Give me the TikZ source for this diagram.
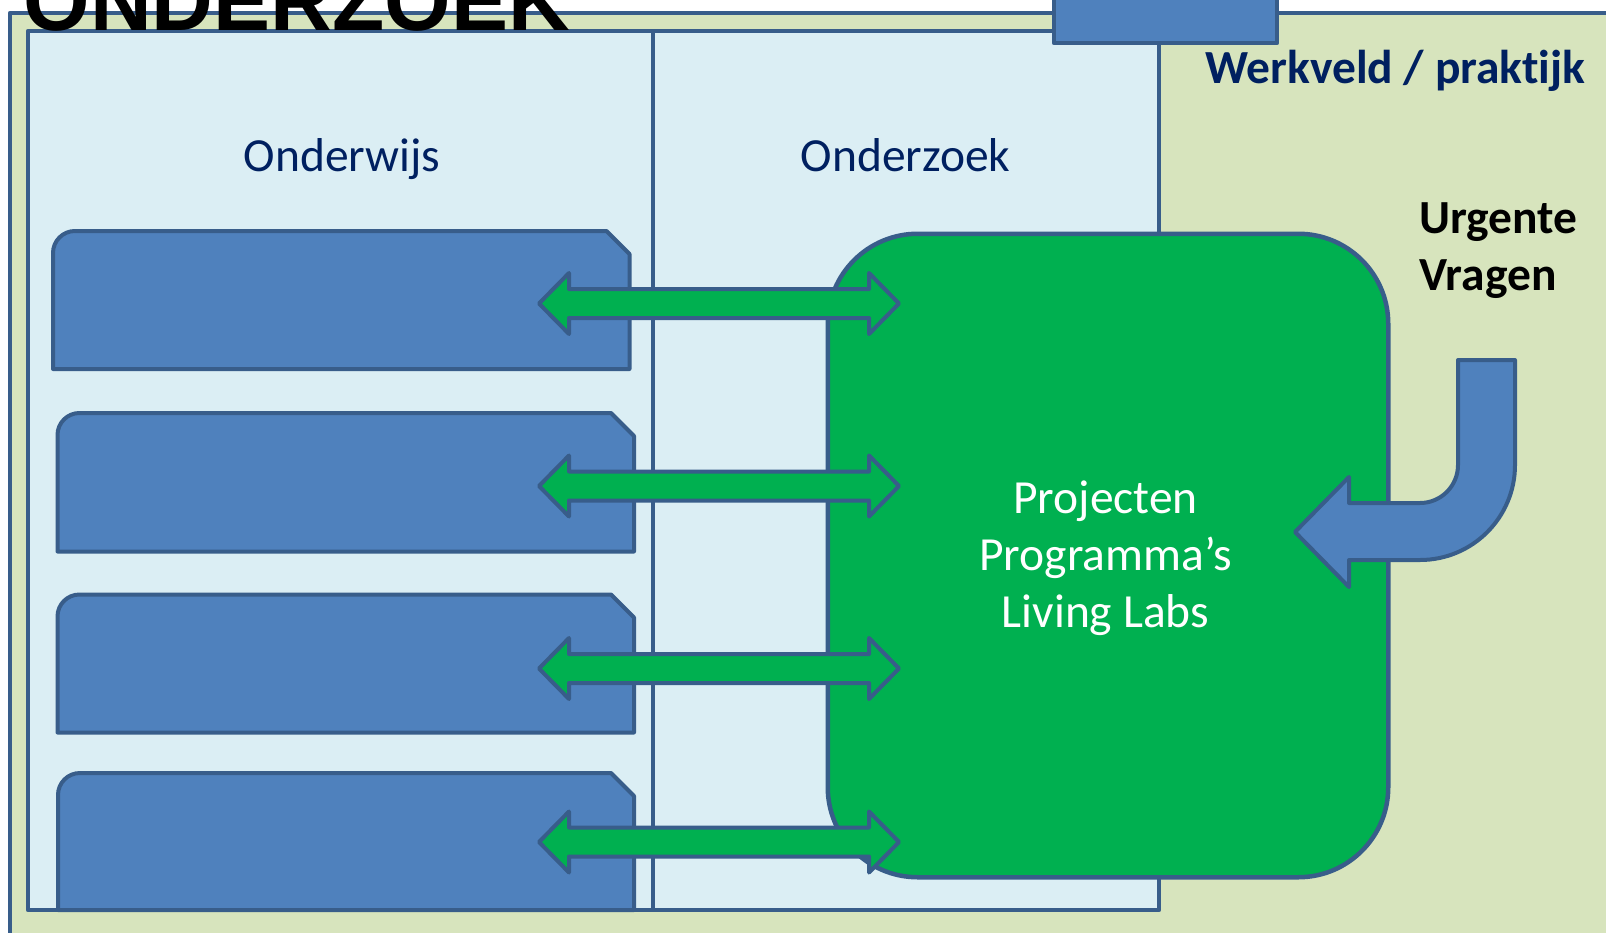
\documentclass[tikz,border=0pt]{standalone}
\usepackage{fontspec}
\setmainfont{Carlito}[Ligatures=NoCommon]
\newfontfamily\titlefont{Liberation Sans}
\usetikzlibrary{calc}
\definecolor{frameblue}{HTML}{385D8A}
\definecolor{boxblue}{HTML}{4F81BD}
\definecolor{hubgreen}{HTML}{00B050}
\definecolor{lightgreen}{HTML}{D7E4BD}
\definecolor{lightblue}{HTML}{DBEEF4}
\definecolor{navy}{HTML}{002060}
\newcommand\tabshape[4]{%
  \draw[tabbox] (#1,#4) -- (#1,#2+22) arc[start angle=180,end angle=270,radius=22]
    -- (#3-23,#2) -- (#3,#2+23) -- (#3,#4) -- cycle;}
\newcommand\twowayarrow[2]{%
  \draw[twoway] (#1) -- ($(#1)+(30,-30.5)$) -- ($(#1)+(30,-14.5)$)
    -- ($(#2)+(-30,-14.5)$) -- ($(#2)+(-30,-30.5)$) -- (#2)
    -- ($(#2)+(-30,30.5)$) -- ($(#2)+(-30,14.5)$)
    -- ($(#1)+(30,14.5)$) -- ($(#1)+(30,30.5)$) -- cycle;}
\begin{document}
\begin{tikzpicture}[x=1pt,y=-1pt,line join=round,
  outline/.style={draw=frameblue,line width=4.5pt},
  panel/.style={outline,fill=lightblue},
  tabbox/.style={outline,line width=4pt,fill=boxblue},
  twoway/.style={outline,line width=4pt,fill=hubgreen},
  bentarrow/.style={outline,line width=4pt,fill=boxblue},
  lbl/.style={inner sep=0pt,font=\fontsize{47.5}{57}\selectfont},
  boldlbl/.style={inner sep=0pt,font=\bfseries\fontsize{47.5}{57}\selectfont},
  titletext/.style={inner sep=0pt,font=\titlefont\bfseries\fontsize{85.5}{90}\selectfont}]
\useasboundingbox (0,0) rectangle (1606,932);
\clip (0,0) rectangle (1606,932);
\fill[white] (0,0) rectangle (1606,932);
% outer frame
\draw[outline,fill=lightgreen] (10,13) rectangle (1650,980);
% panels
\draw[panel] (28,31) rectangle (653,910);
\draw[panel] (653,31) rectangle (1159,910);
\draw[outline,fill=boxblue] (1054,-20) rectangle (1277,43);
% tabs
\tabshape{53}{231}{629.5}{369}
\tabshape{57.5}{413}{634}{551.5}
\tabshape{57.5}{594.5}{634}{732.5}
\tabshape{58}{773}{634}{910}
% hub
\node[outline,fill=hubgreen,rounded corners=90pt,minimum width=560.5pt,
  minimum height=643.5pt,inner sep=0pt,anchor=north west] (hub) at (825.5,231.5) {};
% arrow end points
\coordinate (a1l) at (539,303.5); \coordinate (a1r) at (899,303.5);
\coordinate (a2l) at (539,486);   \coordinate (a2r) at (899,486);
\coordinate (a3l) at (539,668.5); \coordinate (a3r) at (899,668.5);
\coordinate (a4l) at (539,842);   \coordinate (a4r) at (899,842);
\twowayarrow{a1l}{a1r}
\twowayarrow{a2l}{a2r}
\twowayarrow{a3l}{a3r}
\twowayarrow{a4l}{a4r}
% bent arrow
\coordinate (qtip) at (1295,532);
\draw[bentarrow] (1458,360) -- (1515,360) -- (1515,465)
  arc[start angle=0,end angle=90,radius=95] -- (1349,560) -- (1349,587)
  -- (qtip) -- (1349,477) -- (1349,503) -- (1420,503)
  arc[start angle=90,end angle=0,radius=38] -- cycle;
% texts
\node[lbl,text=navy,anchor=base] (onderwijs) at (342,171) {Onderwijs};
\node[lbl,text=navy,anchor=base] (onderzoek) at (905.5,171) {Onderzoek};
\node[boldlbl,text=navy,anchor=base west] (werkveld) at (1205,83) {Werkveld / praktijk};
\node[boldlbl,text=black,anchor=base west] (urg1) at (1419,233) {Urgente};
\node[boldlbl,text=black,anchor=base west] (urg2) at (1419,290) {Vragen};
\node[lbl,text=white,anchor=base] (p1) at (1105.5,513.5) {Projecten};
\node[lbl,text=white,anchor=base] (p2) at (1105.5,570) {Programma’s};
\node[lbl,text=white,anchor=base] (p3) at (1105.5,627) {Living Labs};
\node[titletext,text=black,anchor=base west] (title) at (23.5,30.5) {ONDERZOEK};
\end{tikzpicture}
\end{document}
